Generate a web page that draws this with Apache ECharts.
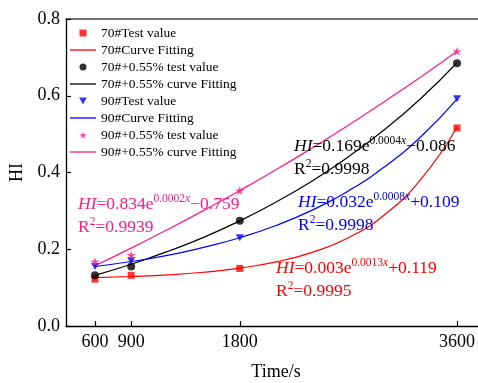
<!DOCTYPE html>
<html>
<head>
<meta charset="utf-8">
<script src="https://cdn.jsdelivr.net/npm/echarts@6/dist/echarts.min.js"></script>
<style>html,body{margin:0;padding:0;background:#fff}#c{width:478px;height:383px}</style>
</head>
<body>
<div id="c"></div>
<script>
// ---- data ----
const xTest = [600, 900, 1800, 3600];
const xFit = [600, 900, 1200, 1500, 1800, 2100, 2400, 2700, 3000, 3300, 3600];
const xTicks = [600, 900, 1800, 3600];
const yTicks = [0, 0.2, 0.4, 0.6, 0.8];

const test70 = [0.122, 0.132, 0.150, 0.516];
const fit70 = [0.126, 0.129, 0.133, 0.140, 0.151, 0.167, 0.192, 0.230, 0.290, 0.382, 0.518];
const test70m = [0.132, 0.155, 0.274, 0.685];
const fit70m = [0.132, 0.161, 0.194, 0.231, 0.274, 0.323, 0.378, 0.441, 0.512, 0.593, 0.686];
const test90 = [0.155, 0.170, 0.230, 0.592];
const fit90 = [0.155, 0.168, 0.184, 0.205, 0.230, 0.262, 0.302, 0.352, 0.415, 0.493, 0.591];
const test90m = [0.168, 0.185, 0.353, 0.716];
const fit90m = [0.157, 0.203, 0.251, 0.301, 0.353, 0.407, 0.464, 0.523, 0.585, 0.649, 0.716];

const names = ['70#Test value', '70#Curve Fitting', '70#+0.55% test value', '70#+0.55% curve Fitting',
               '90#Test value', '90#Curve Fitting', '90#+0.55% test value', '90#+0.55% curve Fitting'];
const eqTexts = [
  ['0.169', '0.0004', '\u22120.086', '0.9998'],
  ['0.834', '0.0002', '\u22120.759', '0.9939'],
  ['0.032', '0.0008', '+0.109', '0.9998'],
  ['0.003', '0.0013', '+0.119', '0.9995']
];

const RED = '#ff0000', BLACK = '#000000', BLUE = '#0000ff', PINK = '#ff1a8c';
const FONT = '"Liberation Serif", "Times New Roman", serif';
const STAR = 'path://M50,0 L61,35 L98,35 L68,57 L79,91 L50,70 L21,91 L32,57 L2,35 L39,35 Z';
const DTRI = 'path://M0,0 L10,0 L5,9 Z';
const SQR = 'path://M0,0 L10,0 L10,10 L0,10 Z';
const LINEICON = 'path://M0,0 L26,0 L26,1.3 L0,1.3 Z';

function pairs(xs, ys) { return xs.map((x, i) => [x, ys[i]]); }
function scatter(name, ys, color, symbol, size) {
  return { name, type: 'scatter', data: pairs(xTest, ys), symbol, symbolSize: size,
    itemStyle: { color }, z: 5, emphasis: { disabled: true } };
}
function fitLine(name, ys, color) {
  return { name, type: 'line', data: pairs(xFit, ys), smooth: true, symbol: 'none', showSymbol: false,
    lineStyle: { color, width: 1.2 }, itemStyle: { color }, z: 3, emphasis: { disabled: true } };
}

function eqGraphic(t, color, x, y) {
  const base = { fontFamily: FONT, fontSize: 17.5, lineHeight: 23, fill: color, verticalAlign: 'middle' };
  const sup = { fontFamily: FONT, fontSize: 11.5, lineHeight: 15, fill: color, verticalAlign: 'top' };
  return {
    type: 'text', left: x, top: y, z: 10,
    style: {
      text: '{i|HI}{n|=' + t[0] + 'e}{s|' + t[1] + '}{si|x}{n|' + t[2] + '}\n{n|R}{s|2}{n|=' + t[3] + '}',
      fill: color, font: '17.5px ' + FONT,
      rich: {
        n: base,
        i: Object.assign({}, base, { fontStyle: 'italic' }),
        s: sup,
        si: Object.assign({}, sup, { fontStyle: 'italic' })
      }
    }
  };
}

const legendIcons = [SQR, LINEICON, 'circle', LINEICON, DTRI, LINEICON, STAR, LINEICON];

const chart = echarts.init(document.getElementById('c'), null, { renderer: 'canvas' });
chart.setOption({
  animation: false,
  backgroundColor: '#fff',
  textStyle: { fontFamily: FONT },
  grid: { left: 66, right: -8, top: 19, bottom: 57, containLabel: false, outerBoundsMode: 'none' },
  legend: {
    data: names.map((n, i) => ({ name: n, icon: legendIcons[i] })),
    orient: 'vertical', left: 70, top: 26, padding: 0,
    itemWidth: 26, itemHeight: 7, itemGap: 3, selectedMode: false,
    textStyle: { fontFamily: FONT, fontSize: 13.5, lineHeight: 13, color: '#000' }
  },
  xAxis: [{
    type: 'value', min: 360, max: 3840, name: 'Time/s', nameLocation: 'middle', nameGap: 37,
    nameTextStyle: { fontFamily: FONT, fontSize: 18, color: '#000' },
    axisLine: { lineStyle: { color: '#000', width: 1.3 } },
    axisTick: { inside: true, length: 5, customValues: xTicks, lineStyle: { color: '#000', width: 1.2 } },
    axisLabel: { customValues: xTicks, fontFamily: FONT, fontSize: 18, color: '#000', margin: 7,
      formatter: v => String(v) },
    splitLine: { show: false }
  }, {
    type: 'value', position: 'top', min: 360, max: 3840,
    axisLine: { show: true, lineStyle: { color: '#444', width: 1.5 } },
    axisTick: { show: false }, axisLabel: { show: false }, splitLine: { show: false }
  }],
  yAxis: [{
    type: 'value', min: 0, max: 0.8, interval: 0.2, name: 'HI', nameLocation: 'middle', nameGap: 40,
    nameTextStyle: { fontFamily: FONT, fontSize: 18, color: '#000' },
    axisLine: { show: true, lineStyle: { color: '#000', width: 1.3 } },
    axisTick: { show: true, inside: true, length: 5, lineStyle: { color: '#000', width: 1.2 } },
    axisLabel: { fontFamily: FONT, fontSize: 18, color: '#000', margin: 6, formatter: v => v.toFixed(1) },
    splitLine: { show: false }
  }],
  series: [
    scatter(names[0], test70, RED, SQR, 7),
    fitLine(names[1], fit70, RED),
    scatter(names[2], test70m, BLACK, 'circle', 8),
    fitLine(names[3], fit70m, BLACK),
    scatter(names[4], test90, BLUE, DTRI, [8, 7]),
    fitLine(names[5], fit90, BLUE),
    scatter(names[6], test90m, PINK, STAR, 9),
    fitLine(names[7], fit90m, PINK)
  ],
  graphic: [
    eqGraphic(eqTexts[0], BLACK, 294, 135),
    eqGraphic(eqTexts[1], PINK, 78, 193),
    eqGraphic(eqTexts[2], BLUE, 298, 191),
    eqGraphic(eqTexts[3], RED, 276, 257)
  ]
});
</script>
</body>
</html>
